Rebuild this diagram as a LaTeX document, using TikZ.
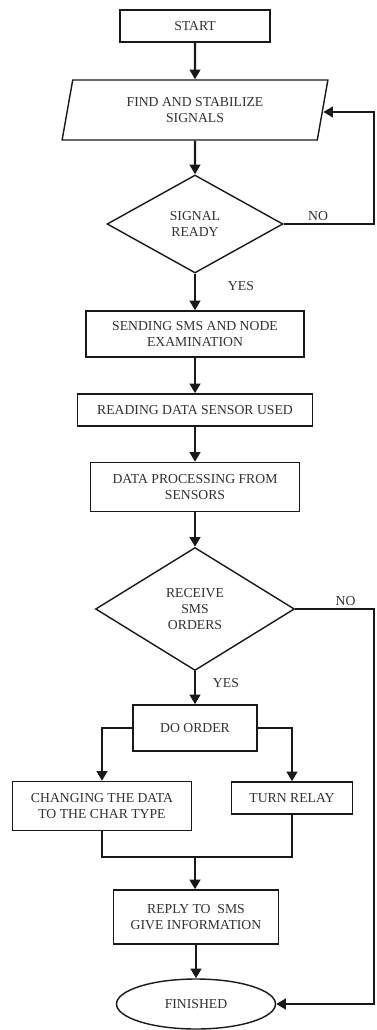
\documentclass[tikz,border=0pt]{standalone}
\usepackage{fontspec}
\setmainfont{Liberation Serif}
\usepackage{xcolor}
\usepackage{tikz}
\usetikzlibrary{shapes.geometric, arrows.meta, positioning, calc}
\definecolor{mydark}{RGB}{25,25,25}
\definecolor{mytext}{RGB}{50,50,50}
\tikzset{
  block/.style={rectangle, draw=mydark, fill=white, align=center,
    font=\fontsize{7.8}{9}\selectfont, text=mytext, inner sep=2pt,
    line width=0.8pt},
  iobox/.style={trapezium, trapezium left angle=79, trapezium right angle=101,
    trapezium stretches, draw=mydark, fill=white, align=center,
    font=\fontsize{7.8}{9}\selectfont, text=mytext, inner sep=2pt,
    line width=0.8pt},
  decision/.style={diamond, draw=mydark, fill=white, align=center, aspect=1.8,
    font=\fontsize{7.8}{9}\selectfont, text=mytext, inner sep=0pt,
    line width=0.8pt},
  terminal/.style={ellipse, draw=mydark, fill=white, align=center,
    font=\fontsize{7.8}{9}\selectfont, text=mytext, inner sep=0pt,
    line width=0.8pt},
  arrow/.style={-{Triangle[width=6pt,length=5.5pt]}, line width=1.4pt, color=mydark},
  line/.style={line width=1.4pt, color=mydark},
  lbl/.style={font=\fontsize{7.8}{9}\selectfont, text=mytext, inner sep=1pt}
}

\begin{document}
\begin{tikzpicture}[x=0.02cm, y=-0.02cm]
  \useasboundingbox (0,0) rectangle (376,1030);
  % main column
  \node[block, minimum width=3.0cm, minimum height=0.64cm] (start) at (195,26) {START};
  \node[iobox, minimum width=5.34cm, minimum height=1.2cm] (find) at (195,110) {FIND AND STABILIZE\\SIGNALS};
  \node[decision, minimum width=3.52cm, minimum height=1.96cm] (ready) at (195,224) {SIGNAL\\READY};
  \node[block, minimum width=4.36cm, minimum height=0.92cm] (send) at (195,334) {SENDING SMS AND NODE\\EXAMINATION};
  \node[block, minimum width=4.7cm, minimum height=0.64cm] (read) at (195,410) {READING DATA SENSOR USED};
  \node[block, minimum width=4.18cm, minimum height=0.98cm] (proc) at (195,487) {DATA PROCESSING FROM\\SENSORS};
  \node[decision, minimum width=3.98cm, minimum height=2.46cm] (recv) at (195,609) {RECEIVE\\SMS\\ORDERS};
  \node[block, minimum width=2.48cm, minimum height=0.92cm] (order) at (195,728) {DO ORDER};
  % two branches
  \node[block, minimum width=3.58cm, minimum height=0.98cm] (chg) at (102,806) {CHANGING THE DATA\\TO THE CHAR TYPE};
  \node[block, minimum width=2.42cm, minimum height=0.64cm] (relay) at (292,798) {TURN RELAY};
  \node[block, minimum width=3.3cm, minimum height=1.08cm] (reply) at (196,917) {REPLY TO\ \ SMS\\GIVE INFORMATION};
  \node[terminal, minimum width=3.18cm, minimum height=1.0cm] (fin) at (196,1004) {FINISHED};
  % helper points
  \coordinate (rt1) at (374,112);
  \coordinate (rt2) at (374,1004);
  \coordinate (join) at (195,857);
  % connectors
  \draw[arrow] (start) -- (find);
  \draw[arrow] (find) -- (ready);
  \draw[arrow] (ready.east) -| node[lbl, above, pos=0.19] {NO} (rt1) -- (find.east |- rt1);
  \draw[arrow] (ready) -- node[lbl, right=0.6cm, pos=0.35] {YES} (send);
  \draw[arrow] (send) -- (read);
  \draw[arrow] (read) -- (proc);
  \draw[arrow] (proc) -- (recv);
  \draw[arrow] (recv.east) -| node[lbl, above, pos=0.32] {NO} (rt2) -- (fin.east);
  \draw[arrow] (recv) -- node[lbl, right=0.3cm, pos=0.35] {YES} (order);
  \draw[arrow] (order.west) -| (chg.north);
  \draw[arrow] (order.east) -| (relay.north);
  \draw[line] (chg.south) |- (join) -| (relay.south);
  \draw[arrow] (join) -- (join |- reply.north);
  \draw[arrow] (reply) -- (fin);
\end{tikzpicture}
\end{document}
